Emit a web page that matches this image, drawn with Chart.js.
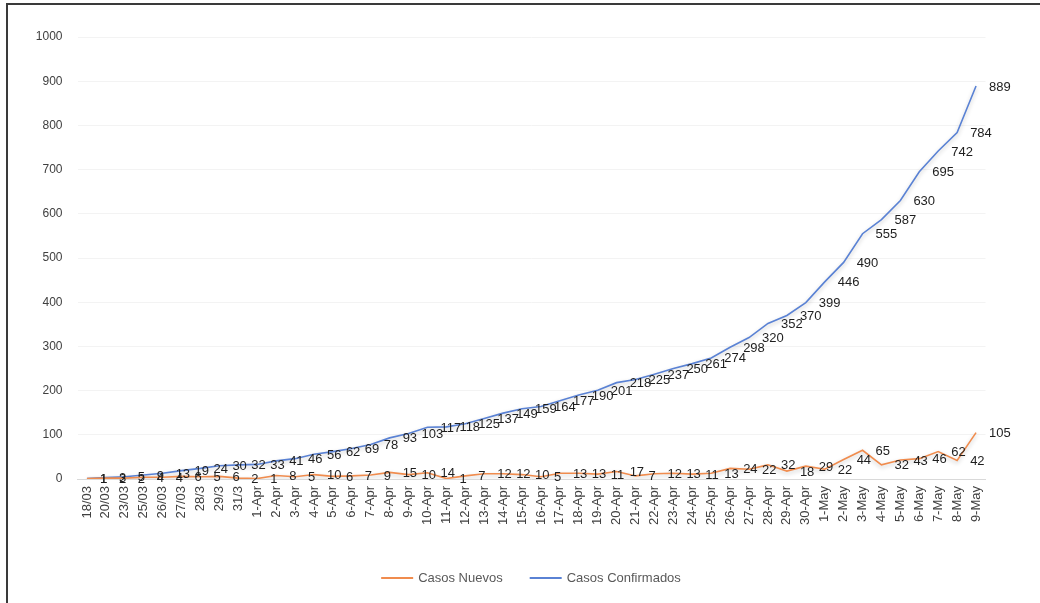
<!DOCTYPE html>
<html lang="es">
<head>
<meta charset="utf-8">
<title>Casos</title>
<script src="https://cdn.jsdelivr.net/npm/chart.js@4.4.1/dist/chart.umd.min.js"></script>
<style>
    body { margin: 0; background: #fff; }
    #contenedor { position: relative; width: 1040px; height: 603px; overflow: hidden; }
    #marco {
        position: absolute; left: 6px; top: 3px; width: 1100px; height: 700px;
        border-top: 2px solid #3a3a3a; border-left: 2px solid #3a3a3a;
    }
    #grafico { position: absolute; left: 0; top: 0; }
</style>
</head>
<body>
<div id="contenedor">
    <div id="marco"></div>
    <canvas id="grafico" width="1040" height="603"></canvas>
</div>
<script>
// Fechas del eje X (tal como aparecen en la hoja)
const fechas = [
    '18/03', '20/03', '23/03', '25/03', '26/03', '27/03', '28/3', '29/3', '31/3',
    '1-Apr', '2-Apr', '3-Apr', '4-Apr', '5-Apr', '6-Apr', '7-Apr', '8-Apr', '9-Apr', '10-Apr',
    '11-Apr', '12-Apr', '13-Apr', '14-Apr', '15-Apr', '16-Apr', '17-Apr', '18-Apr', '19-Apr', '20-Apr',
    '21-Apr', '22-Apr', '23-Apr', '24-Apr', '25-Apr', '26-Apr', '27-Apr', '28-Apr', '29-Apr', '30-Apr',
    '1-May', '2-May', '3-May', '4-May', '5-May', '6-May', '7-May', '8-May', '9-May'
];

const casosNuevos = [
    1, 2, 2, 4, 4, 6, 5, 6, 2,
    1, 8, 5, 10, 6, 7, 9, 15, 10, 14,
    1, 7, 12, 12, 10, 5, 13, 13, 11, 17,
    7, 12, 13, 11, 13, 24, 22, 32, 18, 29,
    22, 44, 65, 32, 43, 46, 62, 42, 105
];

const casosConfirmados = [
    1, 3, 5, 9, 13, 19, 24, 30, 32,
    33, 41, 46, 56, 62, 69, 78, 93, 103, 117,
    118, 125, 137, 149, 159, 164, 177, 190, 201, 218,
    225, 237, 250, 261, 274, 298, 320, 352, 370, 399,
    446, 490, 555, 587, 630, 695, 742, 784, 889
];

const nombresSeries = ['Casos Nuevos', 'Casos Confirmados'];
const coloresSeries = ['#F08C4E', '#5A82D4'];

const fuente = '"Liberation Sans", Arial, sans-serif';

// Sombra suave debajo de las lineas (estilo Excel)
const sombraLineas = {
    id: 'sombraLineas',
    beforeDatasetsDraw(chart) {
        const ctx = chart.ctx;
        ctx.save();
        ctx.shadowColor = 'rgba(0, 0, 0, 0.22)';
        ctx.shadowBlur = 4;
        ctx.shadowOffsetY = 2;
    },
    afterDatasetsDraw(chart) {
        chart.ctx.restore();
    }
};

// Etiquetas de datos a la derecha de cada punto
const etiquetasDatos = {
    id: 'etiquetasDatos',
    afterDatasetsDraw(chart) {
        const ctx = chart.ctx;
        ctx.save();
        ctx.font = '13px ' + fuente;
        ctx.fillStyle = '#1e1e1e';
        ctx.textAlign = 'left';
        ctx.textBaseline = 'middle';
        chart.data.datasets.forEach((ds, i) => {
            const meta = chart.getDatasetMeta(i);
            meta.data.forEach((pt, j) => {
                ctx.fillText(String(ds.data[j]), pt.x + 13, pt.y + 1);
            });
        });
        ctx.restore();
    }
};

// Leyenda dibujada a mano para respetar la separacion del original
const leyenda = {
    id: 'leyenda',
    afterDraw(chart) {
        const ctx = chart.ctx;
        ctx.save();
        ctx.font = '13px ' + fuente;
        ctx.textBaseline = 'middle';
        ctx.textAlign = 'left';
        const y = 578;
        const largoLinea = 32, hueco = 5, separacion = 27;
        const items = chart.data.datasets.map(ds => ({
            texto: ds.label,
            color: ds.borderColor,
            ancho: largoLinea + hueco + ctx.measureText(ds.label).width
        }));
        const total = items.reduce((s, it) => s + it.ancho, 0) + separacion * (items.length - 1);
        let x = 531 - total / 2;
        items.forEach(it => {
            ctx.strokeStyle = it.color;
            ctx.lineWidth = 2;
            ctx.beginPath();
            ctx.moveTo(x, y);
            ctx.lineTo(x + largoLinea, y);
            ctx.stroke();
            ctx.fillStyle = '#595959';
            ctx.fillText(it.texto, x + largoLinea + hueco, y);
            x += it.ancho + separacion;
        });
        ctx.restore();
    }
};

const ctx = document.getElementById('grafico').getContext('2d');

new Chart(ctx, {
    type: 'line',
    data: {
        labels: fechas,
        datasets: [
            {
                label: nombresSeries[0],
                data: casosNuevos,
                borderColor: coloresSeries[0],
                backgroundColor: coloresSeries[0],
                borderWidth: 1.6,
                pointRadius: 0,
                tension: 0,
                fill: false
            },
            {
                label: nombresSeries[1],
                data: casosConfirmados,
                borderColor: coloresSeries[1],
                backgroundColor: coloresSeries[1],
                borderWidth: 1.6,
                pointRadius: 0,
                tension: 0,
                fill: false
            }
        ]
    },
    options: {
        responsive: false,
        animation: false,
        devicePixelRatio: 1,
        layout: {
            padding: { top: 37, left: 7.5, right: 54.5, bottom: 44 }
        },
        plugins: {
            legend: { display: false },
            tooltip: { enabled: false }
        },
        scales: {
            x: {
                offset: true,
                grid: { display: false, drawTicks: false },
                border: { display: true, color: '#d9d9d9', width: 1 },
                ticks: {
                    autoSkip: false,
                    minRotation: 90,
                    maxRotation: 90,
                    padding: 7,
                    color: '#404040',
                    font: { family: fuente, size: 13 }
                },
                afterFit(scale) { scale.height = 80; }
            },
            y: {
                min: 0,
                max: 1000,
                grid: {
                    color: c => c.tick.value === 0 ? 'rgba(0,0,0,0)' : '#f3f3f3',
                    drawTicks: false
                },
                border: { display: false },
                ticks: {
                    stepSize: 100,
                    padding: 15,
                    color: '#404040',
                    font: { family: fuente, size: 12 },
                    callback: valor => String(valor)
                },
                afterFit(scale) { scale.width = 70; }
            }
        }
    },
    plugins: [sombraLineas, etiquetasDatos, leyenda]
});
</script>
</body>
</html>
